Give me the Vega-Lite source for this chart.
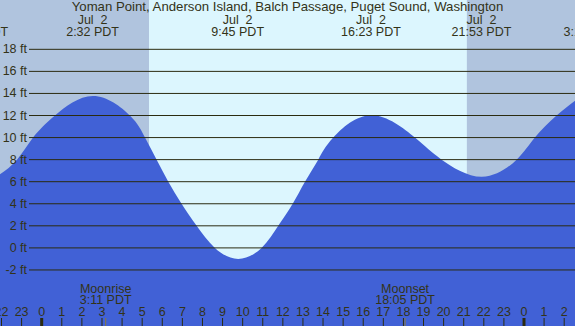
{
  "$schema": "https://vega.github.io/schema/vega-lite/v6.json",
  "width": 575,
  "height": 326,
  "autosize": {"type": "none"},
  "padding": 0,
  "background": "#b0c4de",
  "config": {"view": {"stroke": null}, "font": "Liberation Sans", "axis": {"disable": true}},
  "datasets": {
    "light": [
      {"start": -2.075, "end": 5.34, "kind": "night"},
      {"start": 5.34, "end": 21.16, "kind": "day"},
      {"start": 21.16, "end": 26.538, "kind": "night"}
    ],
    "tide": [
      {"h": -2.075, "ft": 6.67},
      {"h": -1.23, "ft": 8.0},
      {"h": -0.43, "ft": 10.0},
      {"h": 0.66, "ft": 12.0},
      {"h": 2.55, "ft": 13.77},
      {"h": 4.39, "ft": 12.0},
      {"h": 5.14, "ft": 10.0},
      {"h": 5.72, "ft": 8.0},
      {"h": 6.3, "ft": 6.0},
      {"h": 6.96, "ft": 4.0},
      {"h": 7.71, "ft": 2.0},
      {"h": 8.62, "ft": 0.0},
      {"h": 9.78, "ft": -1.0},
      {"h": 10.94, "ft": 0.0},
      {"h": 11.77, "ft": 2.0},
      {"h": 12.49, "ft": 4.0},
      {"h": 13.1, "ft": 6.0},
      {"h": 13.76, "ft": 8.0},
      {"h": 14.51, "ft": 10.0},
      {"h": 16.42, "ft": 12.02},
      {"h": 18.57, "ft": 10.0},
      {"h": 19.9, "ft": 8.0},
      {"h": 21.89, "ft": 6.45},
      {"h": 23.63, "ft": 8.0},
      {"h": 24.54, "ft": 10.0},
      {"h": 25.62, "ft": 12.0},
      {"h": 26.538, "ft": 13.34}
    ],
    "levels": [
      {"ft": -2, "label": "-2 ft"}, {"ft": 0, "label": "0 ft"}, {"ft": 2, "label": "2 ft"},
      {"ft": 4, "label": "4 ft"}, {"ft": 6, "label": "6 ft"}, {"ft": 8, "label": "8 ft"},
      {"ft": 10, "label": "10 ft"}, {"ft": 12, "label": "12 ft"}, {"ft": 14, "label": "14 ft"},
      {"ft": 16, "label": "16 ft"}, {"ft": 18, "label": "18 ft"}
    ],
    "hours": [
      {"h": -2, "label": "22"}, {"h": -1, "label": "23"}, {"h": 0, "label": "0"},
      {"h": 1, "label": "1"}, {"h": 2, "label": "2"}, {"h": 3, "label": "3"},
      {"h": 4, "label": "4"}, {"h": 5, "label": "5"}, {"h": 6, "label": "6"},
      {"h": 7, "label": "7"}, {"h": 8, "label": "8"}, {"h": 9, "label": "9"},
      {"h": 10, "label": "10"}, {"h": 11, "label": "11"}, {"h": 12, "label": "12"},
      {"h": 13, "label": "13"}, {"h": 14, "label": "14"}, {"h": 15, "label": "15"},
      {"h": 16, "label": "16"}, {"h": 17, "label": "17"}, {"h": 18, "label": "18"},
      {"h": 19, "label": "19"}, {"h": 20, "label": "20"}, {"h": 21, "label": "21"},
      {"h": 22, "label": "22"}, {"h": 23, "label": "23"}, {"h": 24, "label": "0"},
      {"h": 25, "label": "1"}, {"h": 26, "label": "2"}
    ],
    "events": [
      {"h": -3.16, "date": "Jul \u00a01", "time": "20:51 PDT"},
      {"h": 2.533, "date": "Jul \u00a02", "time": "2:32 PDT"},
      {"h": 9.75, "date": "Jul \u00a02", "time": "9:45 PDT"},
      {"h": 16.383, "date": "Jul \u00a02", "time": "16:23 PDT"},
      {"h": 21.883, "date": "Jul \u00a02", "time": "21:53 PDT"},
      {"h": 27.28, "date": "Jul \u00a03", "time": "3:17 PDT"}
    ],
    "moon": [
      {"h": 3.183, "name": "Moonrise", "time": "3:11 PDT"},
      {"h": 18.083, "name": "Moonset", "time": "18:05 PDT"}
    ]
  },
  "layer": [
    {
      "data": {"name": "light"},
      "mark": {"type": "rect"},
      "encoding": {
        "x": {"field": "start", "type": "quantitative", "scale": {"domain": [-2.075, 26.538], "nice": false, "zero": false}, "axis": null},
        "x2": {"field": "end"},
        "y": {"datum": 22.47, "type": "quantitative", "scale": {"domain": [-7.08, 22.47], "nice": false, "zero": false}, "axis": null},
        "y2": {"datum": -7.08},
        "color": {"field": "kind", "type": "nominal", "scale": {"domain": ["night", "day"], "range": ["#b0c4de", "#dcf6fe"]}, "legend": null}
      }
    },
    {
      "data": {"name": "tide"},
      "mark": {"type": "area", "interpolate": "natural", "color": "#4161d6"},
      "encoding": {
        "x": {"field": "h", "type": "quantitative"},
        "y": {"field": "ft", "type": "quantitative"},
        "y2": {"datum": -7.08}
      }
    },
    {
      "data": {"name": "levels"},
      "mark": {"type": "rule", "color": "#2b2b10", "strokeWidth": 1},
      "encoding": {
        "y": {"field": "ft", "type": "quantitative"},
        "x": {"value": 29},
        "x2": {"value": 575}
      }
    },
    {
      "data": {"name": "levels"},
      "mark": {"type": "text", "align": "right", "baseline": "middle", "fontSize": 12.5, "color": "#333318", "font": "Liberation Sans"},
      "encoding": {
        "y": {"field": "ft", "type": "quantitative"},
        "x": {"value": 27},
        "text": {"field": "label"}
      }
    },
    {
      "data": {"name": "hours"},
      "mark": {"type": "rule", "color": "#2b2b10"},
      "encoding": {
        "x": {"field": "h", "type": "quantitative"},
        "y": {"value": 318},
        "y2": {"value": 326},
        "strokeWidth": {"condition": {"test": "datum.label === '0'", "value": 3}, "value": 1}
      }
    },
    {
      "data": {"name": "hours"},
      "mark": {"type": "text", "align": "center", "baseline": "alphabetic", "fontSize": 12.5, "color": "#333318", "font": "Liberation Sans"},
      "encoding": {
        "x": {"field": "h", "type": "quantitative"},
        "y": {"value": 316},
        "text": {"field": "label"}
      }
    },
    {
      "data": {"name": "events"},
      "mark": {"type": "text", "align": "center", "baseline": "alphabetic", "fontSize": 12.5, "color": "#333318", "font": "Liberation Sans"},
      "encoding": {
        "x": {"field": "h", "type": "quantitative"},
        "y": {"value": 23.5},
        "text": {"field": "date"}
      }
    },
    {
      "data": {"name": "events"},
      "mark": {"type": "text", "align": "center", "baseline": "alphabetic", "fontSize": 12.5, "color": "#333318", "font": "Liberation Sans"},
      "encoding": {
        "x": {"field": "h", "type": "quantitative"},
        "y": {"value": 36},
        "text": {"field": "time"}
      }
    },
    {
      "data": {"values": [{"t": "Yoman Point, Anderson Island, Balch Passage, Puget Sound, Washington"}]},
      "mark": {"type": "text", "align": "center", "baseline": "alphabetic", "fontSize": 13.2, "color": "#333318", "font": "Liberation Sans"},
      "encoding": {
        "x": {"value": 287.5},
        "y": {"value": 11},
        "text": {"field": "t"}
      }
    },
    {
      "data": {"name": "moon"},
      "mark": {"type": "text", "align": "center", "baseline": "alphabetic", "fontSize": 12.5, "color": "#333318", "font": "Liberation Sans"},
      "encoding": {
        "x": {"field": "h", "type": "quantitative"},
        "y": {"value": 292.5},
        "text": {"field": "name"}
      }
    },
    {
      "data": {"name": "moon"},
      "mark": {"type": "text", "align": "center", "baseline": "alphabetic", "fontSize": 12.5, "color": "#333318", "font": "Liberation Sans"},
      "encoding": {
        "x": {"field": "h", "type": "quantitative"},
        "y": {"value": 304},
        "text": {"field": "time"}
      }
    },
    {
      "data": {"name": "moon"},
      "mark": {"type": "rule", "color": "#8a7a3a", "strokeWidth": 1},
      "encoding": {
        "x": {"field": "h", "type": "quantitative"},
        "y": {"value": 318},
        "y2": {"value": 326}
      }
    }
  ]
}
